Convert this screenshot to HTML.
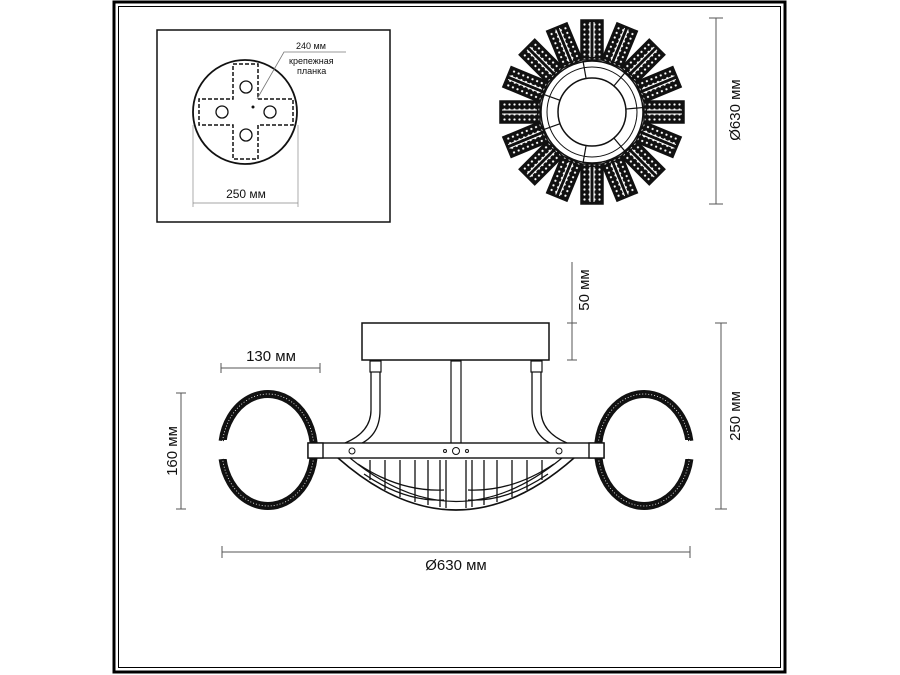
<!DOCTYPE html>
<html><head><meta charset="utf-8"><style>
html,body{margin:0;padding:0;background:#fff}
svg{display:block}
text{font-family:"Liberation Sans",sans-serif;fill:#111}
</style></head><body>
<svg width="900" height="675" viewBox="0 0 900 675" xmlns="http://www.w3.org/2000/svg">
<defs>
<pattern id="dots" width="5" height="5" patternUnits="userSpaceOnUse">
<rect width="5" height="5" fill="#111"/><circle cx="2.5" cy="2.5" r="1.1" fill="#fff"/>
</pattern>
<g id="petal"><rect x="-11" y="-92" width="22" height="40" fill="url(#dots)" stroke="#111" stroke-width="1.5"/><line x1="-2" y1="-90" x2="-2" y2="-55" stroke="#fff" stroke-width="1"/><line x1="2" y1="-90" x2="2" y2="-55" stroke="#fff" stroke-width="1"/></g>
</defs>
<rect x="114" y="2" width="671" height="670" fill="none" stroke="#000" stroke-width="3"/>
<rect x="118.5" y="6.5" width="662" height="661" fill="none" stroke="#000" stroke-width="1"/>

<rect x="157" y="30" width="233" height="192" fill="none" stroke="#111" stroke-width="1.5"/>
<circle cx="245" cy="112" r="52" fill="none" stroke="#111" stroke-width="1.8"/>
<path d="M233 64 H258 V99 H293 V125 H258 V159 H233 V125 H199 V99 H233 Z" fill="none" stroke="#111" stroke-width="1.5" stroke-dasharray="4,2"/>
<circle cx="246" cy="87" r="6" fill="none" stroke="#111" stroke-width="1.3"/>
<circle cx="222" cy="112" r="6" fill="none" stroke="#111" stroke-width="1.3"/>
<circle cx="270" cy="112" r="6" fill="none" stroke="#111" stroke-width="1.3"/>
<circle cx="246" cy="135" r="6" fill="none" stroke="#111" stroke-width="1.3"/>
<circle cx="253" cy="107" r="1.5" fill="#111"/>
<polyline points="257,99 284,52 346,52" fill="none" stroke="#777" stroke-width="0.8"/>
<text x="296" y="49" font-size="9">240 мм</text>
<text x="289" y="64" font-size="9">крепежная</text>
<text x="297" y="74" font-size="9">планка</text>
<line x1="193" y1="125" x2="193" y2="207" stroke="#888" stroke-width="0.7"/>
<line x1="298" y1="125" x2="298" y2="207" stroke="#888" stroke-width="0.7"/>
<line x1="193" y1="203" x2="298" y2="203" stroke="#888" stroke-width="0.8"/>
<text x="246" y="198" font-size="12" text-anchor="middle">250 мм</text>

<g transform="translate(592,112)">
<use href="#petal" transform="rotate(0)"/><use href="#petal" transform="rotate(22.5)"/><use href="#petal" transform="rotate(45)"/><use href="#petal" transform="rotate(67.5)"/>
<use href="#petal" transform="rotate(90)"/><use href="#petal" transform="rotate(112.5)"/><use href="#petal" transform="rotate(135)"/><use href="#petal" transform="rotate(157.5)"/>
<use href="#petal" transform="rotate(180)"/><use href="#petal" transform="rotate(202.5)"/><use href="#petal" transform="rotate(225)"/><use href="#petal" transform="rotate(247.5)"/>
<use href="#petal" transform="rotate(270)"/><use href="#petal" transform="rotate(292.5)"/><use href="#petal" transform="rotate(315)"/><use href="#petal" transform="rotate(337.5)"/>
<circle r="51" fill="#fff" stroke="#111" stroke-width="1.5"/>
<circle r="45" fill="none" stroke="#111" stroke-width="1"/>
<circle r="34" fill="none" stroke="#111" stroke-width="1.5"/>
<g stroke="#111" stroke-width="1.2">
<line x1="0" y1="-34" x2="0" y2="-51" transform="rotate(-10)"/><line x1="0" y1="-34" x2="0" y2="-51" transform="rotate(40)"/><line x1="0" y1="-34" x2="0" y2="-51" transform="rotate(85)"/><line x1="0" y1="-34" x2="0" y2="-51" transform="rotate(140)"/><line x1="0" y1="-34" x2="0" y2="-51" transform="rotate(190)"/><line x1="0" y1="-34" x2="0" y2="-51" transform="rotate(250)"/><line x1="0" y1="-34" x2="0" y2="-51" transform="rotate(290)"/>
</g>
</g>
<line x1="716" y1="18" x2="716" y2="204" stroke="#555" stroke-width="1"/>
<line x1="709" y1="18" x2="723" y2="18" stroke="#555"/><line x1="709" y1="204" x2="723" y2="204" stroke="#555"/>
<text transform="translate(740,110) rotate(-90)" font-size="15" text-anchor="middle">Ø630 мм</text>

<rect x="362" y="323" width="187" height="37" fill="#fff" stroke="#111" stroke-width="1.5"/>
<rect x="451" y="361" width="10" height="83" fill="#fff" stroke="#111" stroke-width="1.2"/>
<rect x="370" y="361" width="11" height="11" fill="#fff" stroke="#111" stroke-width="1.2"/>
<rect x="531" y="361" width="11" height="11" fill="#fff" stroke="#111" stroke-width="1.2"/>
<path d="M371 372 V410 Q371 432 345 443" fill="none" stroke="#111" stroke-width="1.3"/>
<path d="M380 372 V410 Q380 438 355 446" fill="none" stroke="#111" stroke-width="1.3"/>
<path d="M541 372 V410 Q541 432 567 443" fill="none" stroke="#111" stroke-width="1.3"/>
<path d="M532 372 V410 Q532 438 557 446" fill="none" stroke="#111" stroke-width="1.3"/>
<!-- rings -->
<g fill="none" stroke="#111" stroke-width="8">
<path d="M222.6 441 A46 56 0 1 1 222.6 459"/>
<path d="M689.4 441 A46 56 0 1 0 689.4 459"/>
</g>
<g fill="none" stroke="#fff" stroke-width="0.8" stroke-dasharray="1,2">
<path d="M222.6 441 A46 56 0 1 1 222.6 459"/>
<path d="M689.4 441 A46 56 0 1 0 689.4 459"/>
</g>
<rect x="224" y="440" width="8" height="19" fill="#fff"/>
<rect x="680" y="440" width="8" height="19" fill="#fff"/>
<rect x="308" y="443" width="296" height="15" fill="#fff" stroke="#111" stroke-width="1.4"/>
<rect x="308" y="443" width="15" height="15" fill="#fff" stroke="#111" stroke-width="1.4"/>
<rect x="589" y="443" width="15" height="15" fill="#fff" stroke="#111" stroke-width="1.4"/>
<circle cx="456" cy="451" r="3.5" fill="#fff" stroke="#111"/>
<circle cx="445" cy="451" r="1.5" fill="none" stroke="#111"/><circle cx="467" cy="451" r="1.5" fill="none" stroke="#111"/>
<circle cx="352" cy="451" r="3" fill="none" stroke="#111"/><circle cx="559" cy="451" r="3" fill="none" stroke="#111"/>
<path d="M338 458 Q456 562 574 458" fill="none" stroke="#111" stroke-width="1.6"/>
<path d="M350 458 Q456 545 562 458" fill="none" stroke="#111" stroke-width="1.2"/>
<g stroke="#111" stroke-width="1.3">
<line x1="370" y1="460" x2="370" y2="480"/><line x1="385" y1="460" x2="385" y2="490"/><line x1="400" y1="460" x2="400" y2="497"/><line x1="415" y1="460" x2="415" y2="502"/><line x1="428" y1="460" x2="428" y2="505"/><line x1="440" y1="460" x2="440" y2="507"/>
<line x1="472" y1="460" x2="472" y2="507"/><line x1="484" y1="460" x2="484" y2="505"/><line x1="497" y1="460" x2="497" y2="502"/><line x1="512" y1="460" x2="512" y2="497"/><line x1="527" y1="460" x2="527" y2="490"/><line x1="542" y1="460" x2="542" y2="480"/>
<line x1="446" y1="460" x2="446" y2="508"/><line x1="466" y1="460" x2="466" y2="508"/>
<path d="M358 464 Q400 492 444 490" fill="none"/><path d="M554 464 Q512 492 468 490" fill="none"/>
<path d="M364 474 Q405 502 444 500" fill="none"/><path d="M548 474 Q507 502 468 500" fill="none"/>
</g>
<g stroke="#555" stroke-width="1">
<line x1="221" y1="368" x2="320" y2="368"/><line x1="221" y1="363" x2="221" y2="373"/><line x1="320" y1="363" x2="320" y2="373"/>
<line x1="181" y1="393" x2="181" y2="509"/><line x1="176" y1="393" x2="186" y2="393"/><line x1="176" y1="509" x2="186" y2="509"/>
<line x1="222" y1="552" x2="690" y2="552"/><line x1="222" y1="546" x2="222" y2="558"/><line x1="690" y1="546" x2="690" y2="558"/>
<line x1="572" y1="262" x2="572" y2="360"/><line x1="567" y1="323" x2="577" y2="323"/><line x1="567" y1="360" x2="577" y2="360"/>
<line x1="721" y1="323" x2="721" y2="509"/><line x1="715" y1="323" x2="727" y2="323"/><line x1="715" y1="509" x2="727" y2="509"/>
</g>
<text x="271" y="361" font-size="15" text-anchor="middle">130 мм</text>
<text transform="translate(177,451) rotate(-90)" font-size="15" text-anchor="middle">160 мм</text>
<text x="456" y="570" font-size="15" text-anchor="middle">Ø630 мм</text>
<text transform="translate(589,290) rotate(-90)" font-size="15" text-anchor="middle">50 мм</text>
<text transform="translate(740,416) rotate(-90)" font-size="15" text-anchor="middle">250 мм</text>
</svg>
</body></html>
